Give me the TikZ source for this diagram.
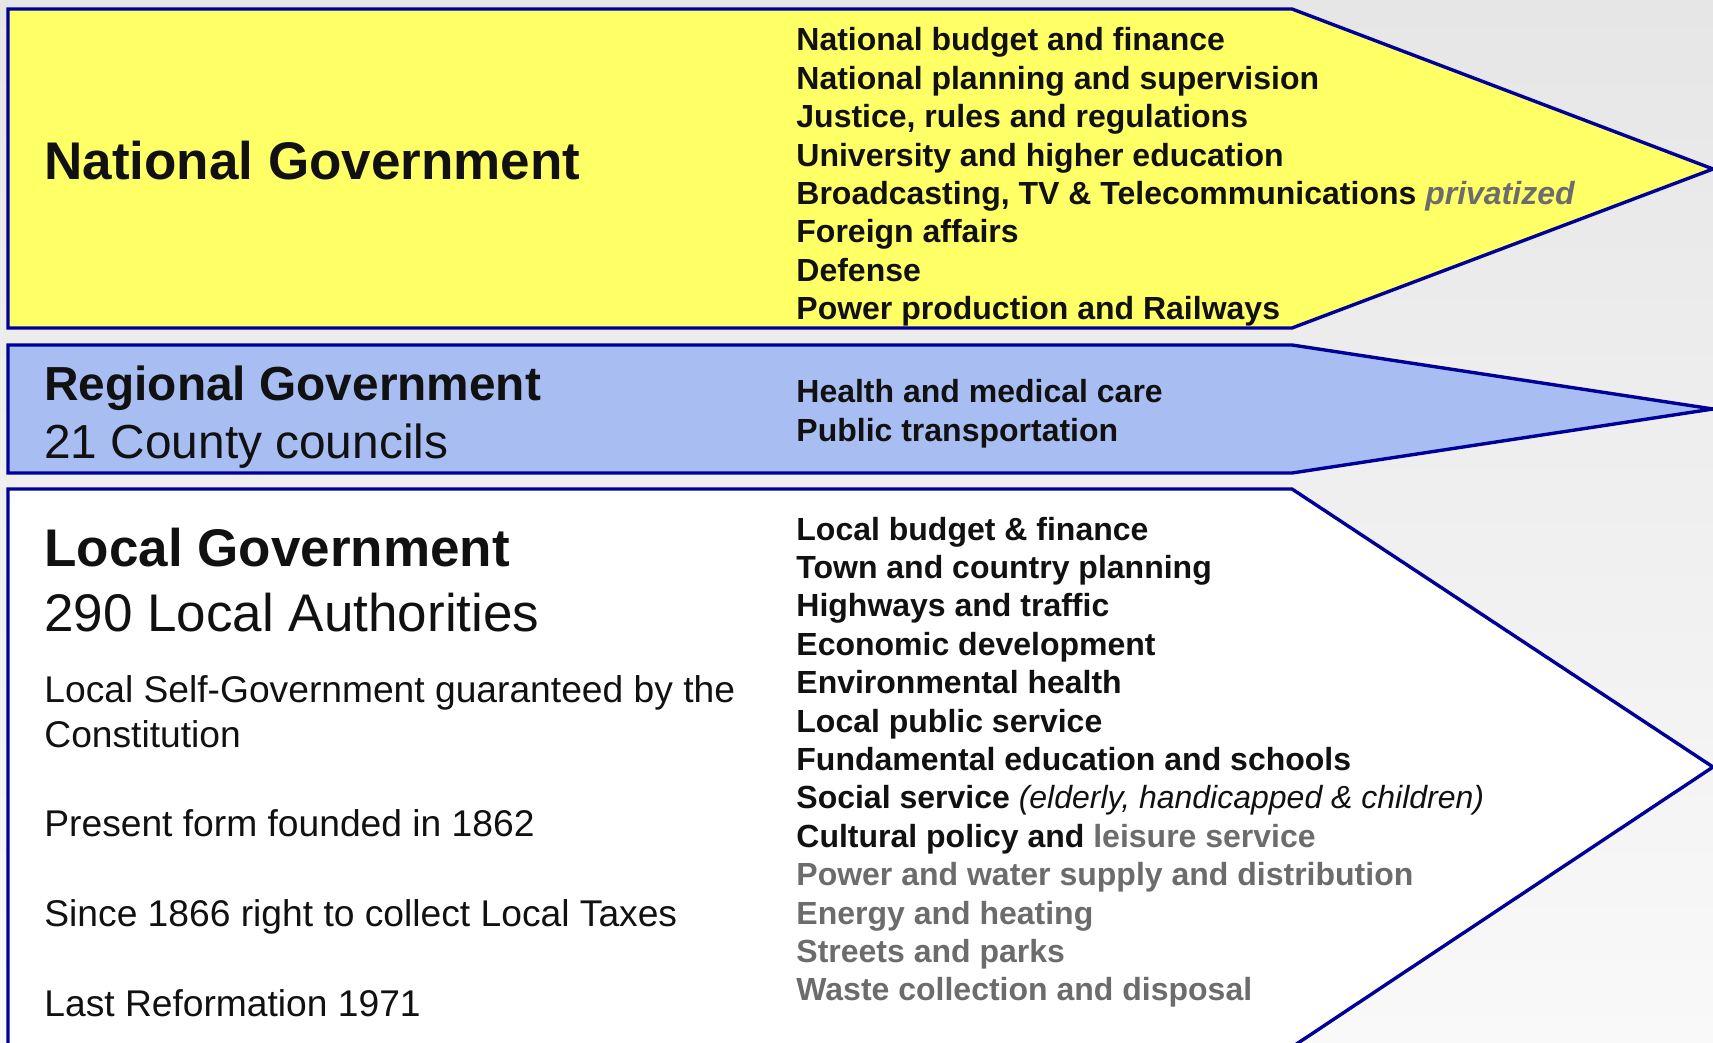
\documentclass[tikz,border=0pt]{standalone}
\usepackage{fontspec}
\setmainfont{Liberation Sans}
\usepackage{tikz}
\usetikzlibrary{positioning}

\definecolor{navyline}{RGB}{0,0,153}
\definecolor{natyellow}{RGB}{255,255,102}
\definecolor{regblue}{RGB}{168,190,242}
\definecolor{inkblack}{RGB}{17,17,17}
\definecolor{privgrey}{RGB}{108,108,108}
\definecolor{bgtop}{RGB}{230,230,230}
\definecolor{bgbottom}{RGB}{249,249,249}

\begin{document}
\begin{tikzpicture}[x=0.5pt,y=-0.5pt,
  govshape/.style={draw=navyline,line width=1.7pt},
  bighead/.style={anchor=base west,inner sep=0pt,text=inkblack,font=\fontsize{26.5}{30}\selectfont\bfseries},
  bigsub/.style={anchor=base west,inner sep=0pt,text=inkblack,font=\fontsize{26.5}{30}\selectfont},
  reghead/.style={anchor=base west,inner sep=0pt,text=inkblack,font=\fontsize{23.9}{27}\selectfont\bfseries},
  regsub/.style={anchor=base west,inner sep=0pt,text=inkblack,font=\fontsize{23.9}{27}\selectfont},
  para/.style={anchor=base west,inner sep=0pt,text=inkblack,font=\fontsize{18.6}{22}\selectfont},
  item/.style={anchor=base west,inner sep=0pt,text=inkblack,font=\fontsize{16}{19}\selectfont\bfseries}]
\useasboundingbox (0,0) rectangle (1713,1043);
\shade[top color=bgtop,bottom color=bgbottom] (0,0) rectangle (1713,1043);

% the three levels
\draw[govshape,fill=natyellow] (8,9) -- (1292,9) -- (1713,169) -- (1292,328) -- (8,328) -- cycle;
\draw[govshape,fill=regblue] (8,345) -- (1292,345) -- (1713,409) -- (1292,473) -- (8,473) -- cycle;
\draw[govshape,fill=white] (8,489) -- (1292,489) -- (1713,767) -- (1292,1047) -- (8,1047) -- cycle;

% national
\node[bighead] (nathead) at (44,180) {National Government};
\foreach \t [count=\i] in {National budget and finance,
    National planning and supervision,
    {Justice, rules and regulations},
    University and higher education,
    {Broadcasting, TV \& Telecommunications \textcolor{privgrey}{\itshape privatized}},
    Foreign affairs,
    Defense,
    Power production and Railways}
  \node[item] (nat\i) at (796,{51+38.4*(\i-1)}) {\t};

% regional
\node[reghead] (reghead) at (44,400) {Regional Government};
\node[regsub] (regsub) at (44,458) {21 County councils};
\node[item] (reg1) at (796,402.6) {Health and medical care};
\node[item] (reg2) at (796,441) {Public transportation};

% local
\node[bighead] (lochead) at (44,566) {Local Government};
\node[bigsub] (locsub) at (44,631) {290 Local Authorities};
\node[para] (selfgov) at (44,702.5) {Local Self-Government guaranteed by the};
\node[para] (constit) at (44,747) {Constitution};
\node[para] (founded) at (44,836) {Present form founded in 1862};
\node[para] (taxes) at (44,926) {Since 1866 right to collect Local Taxes};
\node[para] (reform) at (44,1016) {Last Reformation 1971};
\foreach \t [count=\i] in {Local budget \& finance,
    Town and country planning,
    Highways and traffic,
    Economic development,
    Environmental health,
    Local public service,
    Fundamental education and schools,
    {Social service \mdseries\itshape(elderly, handicapped \& children)},
    {Cultural policy and \textcolor{privgrey}{leisure service}},
    \textcolor{privgrey}{Power and water supply and distribution},
    \textcolor{privgrey}{Energy and heating},
    \textcolor{privgrey}{Streets and parks},
    \textcolor{privgrey}{Waste collection and disposal}}
  \node[item] (loc\i) at (796,{540+38.4*(\i-1)}) {\t};
\end{tikzpicture}
\end{document}
